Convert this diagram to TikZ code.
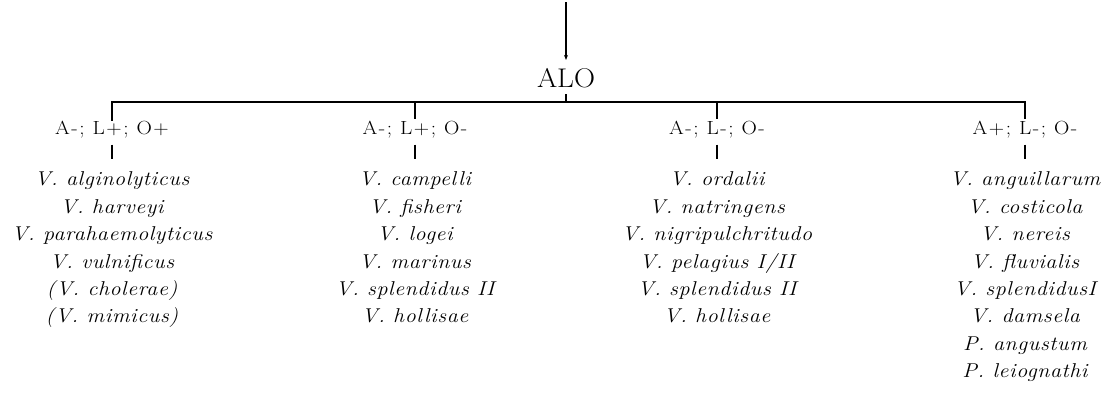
\documentclass[tikz,border=0pt]{standalone}
\usepackage{fontspec}
\setmainfont{Latin Modern Roman}
\usetikzlibrary{arrows.meta}
\begin{document}
\begin{tikzpicture}[x=1pt,y=-1pt,
  root/.style={inner sep=0pt,outer sep=0pt,anchor=base,font=\fontsize{27}{30}\selectfont\addfontfeatures{FakeStretch=1.08}},
  group/.style={inner sep=0pt,outer sep=0pt,anchor=base,font=\fontsize{19}{22}\selectfont\addfontfeatures{FakeStretch=1.12,LetterSpace=8}},
  species/.style={inner sep=0pt,outer sep=0pt,anchor=north,align=center,font=\fontsize{20}{27.4}\selectfont\itshape\addfontfeatures{FakeStretch=1.1,LetterSpace=3}},
  wire/.style={draw=black,line width=1.5pt},
  bar/.style={draw=black,line width=2pt,shorten <=7pt,shorten >=13pt}]
\path[use as bounding box] (0,0) rectangle (1107,392);
\coordinate (top) at (566,2);
\coordinate (bus) at (566,102);
\node[root] (alo) at (566,87) {ALO};
\node[group] (g1) at (112,134) {A-; L+; O+};
\node[group] (g2) at (415,134) {A-; L+; O-};
\node[group] (g3) at (717,134) {A-; L-; O-};
\node[group] (g4) at (1025,134) {A+; L-; O-};
\node[species] (s1) at (112,172) {V. alginolyticus\\V. harveyi\\V. parahaemolyticus\\V. vulnificus\\(V. cholerae)\\(V. mimicus)};
\node[species] (s2) at (415,172) {V. campelli\\V. fisheri\\V. logei\\V. marinus\\V. splendidus II\\V. hollisae};
\node[species] (s3) at (717,172) {V. ordalii\\V. natringens\\V. nigripulchritudo\\V. pelagius I/II\\V. splendidus II\\V. hollisae};
\node[species] (s4) at (1025,172) {V. anguillarum\\V. costicola\\V. nereis\\V. fluvialis\\V. splendidusI\\V. damsela\\P. angustum\\P. leiognathi};
\draw[wire,-{Stealth[length=5pt,width=4pt]},shorten >=8pt] (top) -- (alo.north);
\draw[wire,shorten <=7pt] (alo.south) -- (alo.south |- bus);
\draw[wire,shorten >=2pt] (g1.north) -- (g1.north |- bus) -- (g4.north |- bus) -- (g4.north);
\foreach \g in {g2,g3}
  \draw[wire,shorten >=2pt] (\g.north |- bus) -- (\g.north);
\foreach \i in {1,...,4}
  \draw[bar] (g\i.south) -- (s\i.north);
\end{tikzpicture}
\end{document}
